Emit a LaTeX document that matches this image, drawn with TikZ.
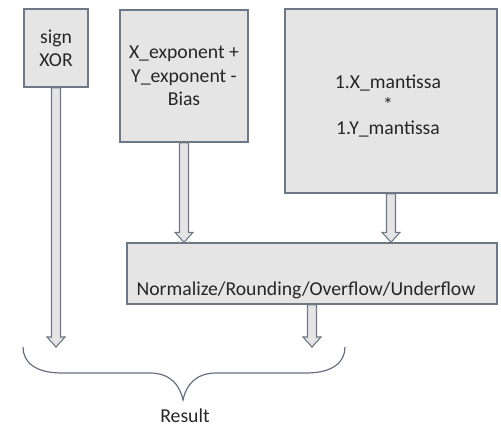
\documentclass[tikz,border=0pt]{standalone}
\usepackage{fontspec}
\setmainfont{Carlito}
\usetikzlibrary{calc}
\definecolor{boxfill}{HTML}{E6E5E6}
\definecolor{boxline}{HTML}{6E7884}
\definecolor{bracecol}{HTML}{66707C}
\tikzset{
  txt/.style={font=\fontsize{19.7}{23.4}\selectfont, text=black!85},
  blk/.style={txt, draw=boxline, line width=1.4pt, fill=boxfill, inner sep=0pt,
    align=center},
  fatarrow/.style={draw=boxline, line width=1.1pt, fill=boxfill,
    to path={let \p1=(\tikztostart), \p2=(\tikztotarget) in
      ({\x1-4.5pt},\y1) -- ({\x1-4.5pt},{\y2+10pt}) -- ({\x1-9pt},{\y2+10pt})
      -- (\x1,\y2) -- ({\x1+9pt},{\y2+10pt}) -- ({\x1+4.5pt},{\y2+10pt})
      -- ({\x1+4.5pt},\y1) -- cycle}},
}
\begin{document}
\begin{tikzpicture}[x=1pt, y=-1pt]
  \useasboundingbox (0,0) rectangle (501,426);

  % operation boxes
  \node[blk, minimum width=64pt, minimum height=78pt] (sign) at (56,48) {sign\\XOR};
  \node[blk, minimum width=128pt, minimum height=132pt] (expo) at (184,76)
    {X\_exponent +\\Y\_exponent -\\Bias};
  \node[blk, minimum width=212pt, minimum height=184pt,
        label={[txt, align=center, xshift=-3pt, yshift=-5pt]center:1.X\_mantissa\\*\\1.Y\_mantissa}]
        (mant) at (391,101) {};
  \node[blk, minimum width=370pt, minimum height=61pt,
        label={[txt, xshift=-6pt, yshift=-17pt]center:Normalize/Rounding/Overflow/Underflow}]
        (norm) at (312,273.5) {};

  % free ends of the two lower arrows
  \coordinate (signend) at (56.5,347);
  \coordinate (normend) at (312,347);

  % block arrows
  \draw[fatarrow] (sign.south) to (signend);
  \draw[fatarrow] (expo.south) to (expo.south |- norm.north);
  \draw[fatarrow] (mant.south) to (mant.south |- norm.north);
  \draw[fatarrow] (norm.south) to (normend);

  % brace collecting the result
  \coordinate (bl) at (23,347);
  \coordinate (br) at (345,347);
  \coordinate (btip) at (183,400);
  \draw[bracecol, line width=1.2pt]
    (bl) .. controls (23,362) and (35,373) .. (62,373)
    -- (150,373) .. controls (170,373) and (180,385) .. (btip)
    .. controls (186,385) and (196,373) .. (216,373)
    -- (306,373) .. controls (333,373) and (345,362) .. (br);
  \node[txt, inner sep=0pt] (result) at (185,415.5) {Result};
\end{tikzpicture}
\end{document}
